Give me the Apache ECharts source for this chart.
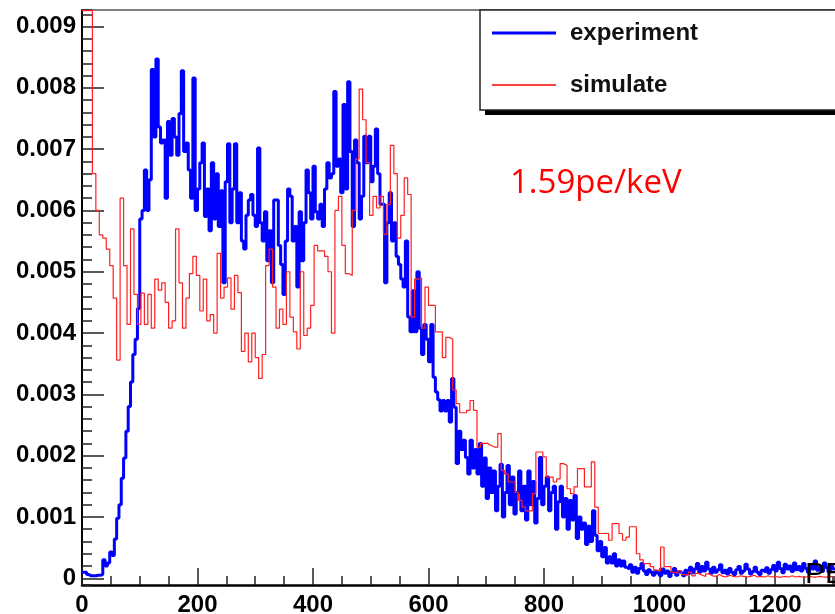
<!DOCTYPE html>
<html><head><meta charset="utf-8">
<script src="https://cdn.jsdelivr.net/npm/echarts/dist/echarts.min.js"></script>
<style>html,body{margin:0;padding:0;background:#fff}#c{width:835px;height:614px}</style>
</head><body><div id="c"></div>
<script>
// ---- data (values in units of 1e-4) ----
const seriesNames = ['experiment', 'simulate'];
const experimentBinWidth = 4;   // PE per bin
const simulateBinWidth = 6;     // PE per bin
const valueUnit = 1e-4;

const experiment = [
  1, 1, 0.6, 0.4, 0.4, 0.4, 0.5, 0.5, 0.6, 3,
  2, 2.5, 4.3, 3.7, 6.4, 9.8, 12, 16.3, 19.6, 24,
  28, 32, 36.5, 39, 44, 58.6, 60, 66.6, 60, 65,
  83, 72, 84.7, 73.6, 71, 71.5, 62, 74.5, 69, 75,
  72, 69, 75.8, 82.8, 69.6, 71, 66.6, 62, 81.6, 60,
  63.5, 67.8, 71, 59, 63.5, 56.7, 67.8, 58.6, 66, 57.4,
  63.2, 48.2, 64.7, 70.9, 58, 63.5, 70.9, 58, 62.9, 55,
  53.7, 59.2, 61.7, 62.6, 59.2, 57.4, 70.2, 58, 55, 59.8,
  51.8, 56.7, 48.2, 61.7, 61.7, 54.3, 51.2, 46.3, 55, 63.5,
  62.3, 55, 57.4, 47.5, 59.8, 51.8, 58, 66.6, 62.9, 58.6,
  67.2, 59.8, 58.6, 61, 57.4, 63.5, 67.8, 65.3, 66, 79.4,
  67.2, 68.4, 62.9, 77.3, 63.5, 81, 69.6, 57.4, 71.5, 67.8,
  58.6, 62.3, 72.1, 67.8, 72.1, 64.7, 67.2, 73.3, 66, 61,
  61, 48.2, 58, 62.9, 55, 58, 52.5, 51.2, 48.8, 47.5,
  55, 42.6, 40.2, 46.9, 40.2, 50, 40.8, 36.5, 41.4, 39,
  35.3, 41.4, 32.8, 30.4, 29.1, 27.3, 29, 27.3, 29, 25.5,
  32.6, 27.9, 18.7, 24, 21, 22.5, 19.7, 17, 22.5, 18,
  21, 17, 22, 15, 19.6, 13, 18, 14, 17.5, 11,
  15, 18.6, 10, 14, 18.4, 12, 16.5, 10.5, 14, 17.5,
  11, 15, 9.5, 17.5, 12, 15.8, 9, 13, 19.7, 12,
  15, 16.5, 11, 14, 15, 8, 12.5, 15, 10, 13,
  8, 12.7, 9.5, 13.5, 6.5, 10, 8, 9, 5.5, 8.5,
  6, 11, 7, 4.5, 6, 3.5, 5, 2.5, 3.5, 2.5,
  4, 2, 3, 2, 2.8, 1.8,
  1.5, 2.2, 1, 1.8, 0.8, 1.6, 2.4, 1.2, 0.6, 1.4, 1, 0.5, 1.2, 0.8,
  0.4, 1.5, 0.8, 1.2, 0.3, 1, 1.6, 0.5, 1.1, 0.8, 0.4, 1.3, 0.7, 1.8, 0.9,
  1.5, 2.4, 1, 1.9, 1.2, 2.6, 1.5, 0.8, 1.8, 1, 1.4, 2.2, 0.9, 1.3, 0.7,
  1.6, 1, 0.6, 1.4, 1.9, 0.8, 1.2, 2.3, 1.5, 0.7, 1.1, 1.8, 1, 0.6, 1.3,
  1, 1.7, 0.8, 1.4, 2.1, 1.2, 2.6, 1.6, 0.9, 2.3, 1.5, 2, 1.1, 2.5, 1.4,
  1.9, 1.2, 2.4, 1.6, 1, 2.2, 1.5, 2.8, 1.3, 1.8, 1.1, 2.5, 1.7, 1, 2, 1.5
];

const simulate = [
  92.6, 92.6, 92.6, 66, 60, 56, 55.5, 53.7, 51, 45.7,
  35.6, 62, 51, 41.4, 57, 46.3, 41.4, 46.5, 41.4, 46.3,
  40.8, 48.8, 47, 48.2, 45, 40.8, 42, 57, 48.2, 40.8,
  45.7, 49.7, 52.5, 49.4, 43.6, 48.8, 42, 43, 40, 53,
  45.7, 47.5, 49, 43.9, 49.4, 46.6, 37, 40, 35.3, 40,
  36, 32.6, 36.5, 51, 53.7, 47.5, 40.8, 43.9, 41.4, 50,
  42.6, 40.2, 37.4, 50, 39.6, 40.8, 44.5, 54.3, 53.4, 53.4,
  52.5, 50, 40, 60, 62.3, 54.3, 49.7, 49.4, 60, 68.4,
  79.8, 74.8, 67.8, 59.2, 62.3, 60.4, 62.3, 56.1, 61, 70.6,
  66, 55.5, 59.2, 65.3, 62.6, 42.6, 48.8, 49, 40.8, 47.5,
  44.5, 44.5, 40.2, 40.2, 36, 39.3, 39, 30.7, 28.5, 27,
  27, 27.4, 29, 27.4, 21.4, 22, 22, 21.7, 21.4, 21.4,
  23.6, 17.6, 17, 15.7, 15.7, 14, 12.7, 11.6, 11, 11,
  13.8, 20.6, 20.6, 19.8, 16.5, 16.5, 15.7, 16.2, 18.7, 18.4,
  14.6, 13.8, 14.9, 17.9, 17.9, 14.9, 14.9, 19, 11.6, 7.3,
  7.3, 7.3, 6.2, 8.9, 8.9, 7.3, 6.2, 6.7, 8.4, 8.4,
  4, 3, 2.4, 2.4, 1.9, 1.3, 1.3, 5.1, 1.9, 1.9,
  1, 0.8, 1.2, 0.6, 0.5, 1, 0.4, 0.8, 0.5, 0.3,
  0.7, 0.4, 0.3, 0.6, 0.3, 0.2, 0.5, 0.3, 0.2, 0.4,
  0.3, 0.2, 0.3, 0.5, 0.2, 0.3, 0.2, 0.4, 0.2, 0.3,
  0.2, 0.2, 0.3, 0.2, 0.4, 0.2, 0.3, 0.2, 0.2, 0.3,
  0.2, 0.2, 0.3, 0.2, 0.2, 0.3, 0.2
];

const xTickLabels = ['0', '200', '400', '600', '800', '1000', '1200'];
const yTickLabels = ['0', '0.001', '0.002', '0.003', '0.004', '0.005', '0.006', '0.007', '0.008', '0.009'];
const xAxisTitle = 'PE';
const annotation = '1.59pe/keV';

// ---- build step outlines ----
function histSteps(vals, bin) {
  const pts = vals.map((v, i) => [i * bin, v * valueUnit]);
  pts.push([vals.length * bin, vals[vals.length - 1] * valueUnit]);
  return pts;
}
const X_MIN = 0, X_MAX = 1304, Y_MIN = -0.00011, Y_MAX = 0.00927;
const labelFont = { fontFamily: 'Liberation Sans', fontWeight: 'bold', fontSize: 24, color: '#000' };

function fmtX(v) { const s = String(Math.round(v)); return (Math.abs(v - Math.round(v)) < 1e-6 && xTickLabels.includes(s)) ? s : ''; }
function fmtY(v) {
  const k = Math.round(v * 1000);
  if (Math.abs(v * 1000 - k) > 1e-6) return '';
  const s = k === 0 ? '0' : (k / 1000).toFixed(3);
  return yTickLabels.includes(s) ? s : '';
}

const chart = echarts.init(document.getElementById('c'), null, { renderer: 'canvas' });
chart.setOption({
  animation: false,
  backgroundColor: '#ffffff',
  grid: { left: 82, right: 0, top: 10, bottom: 29, containLabel: false, outerBoundsMode: 'none', show: false },
  xAxis: [
    { type: 'value', position: 'bottom', min: X_MIN, max: X_MAX, minInterval: 200, maxInterval: 200,
      axisLine: { onZero: false, lineStyle: { color: '#000', width: 2.5 } },
      axisTick: { inside: true, length: 17, lineStyle: { color: '#222', width: 1.5 } },
      axisLabel: Object.assign({ margin: 8, formatter: fmtX, showMinLabel: true, showMaxLabel: false }, labelFont),
      splitLine: { show: false } },
    { type: 'value', position: 'bottom', min: X_MIN, max: X_MAX, minInterval: 50, maxInterval: 50,
      axisLine: { show: false, onZero: false },
      axisTick: { inside: true, length: 9, lineStyle: { color: '#222', width: 1.5 } },
      axisLabel: { show: false }, splitLine: { show: false } },
    { type: 'value', position: 'top', min: X_MIN, max: X_MAX,
      axisLine: { onZero: false, lineStyle: { color: '#555', width: 1.5 } },
      axisTick: { show: false }, axisLabel: { show: false }, splitLine: { show: false } }
  ],
  yAxis: [
    { type: 'value', position: 'left', min: Y_MIN, max: Y_MAX, minInterval: 0.001, maxInterval: 0.001,
      axisLine: { onZero: false, lineStyle: { color: '#000', width: 2 } },
      axisTick: { inside: true, length: 22, lineStyle: { color: '#222', width: 1.5 } },
      axisLabel: Object.assign({ margin: 6, formatter: fmtY, showMinLabel: false, showMaxLabel: false }, labelFont),
      splitLine: { show: false } },
    { type: 'value', position: 'left', min: Y_MIN, max: Y_MAX, minInterval: 0.0002, maxInterval: 0.0002,
      axisLine: { show: false, onZero: false },
      axisTick: { inside: true, length: 10, lineStyle: { color: '#222', width: 1.5 } },
      axisLabel: { show: false }, splitLine: { show: false } }
  ],
  legend: {
    left: 480, top: 10, orient: 'vertical', z: 6,
    itemWidth: 64, itemHeight: 24, itemGap: 28,
    padding: [11, 320, 13, 12],
    backgroundColor: '#fff', borderColor: '#222', borderWidth: 1.5,
    symbolKeepAspect: true,
    textStyle: Object.assign({ padding: [0, 0, 0, 9] }, labelFont, { color: '#111' }),
    data: [
      { name: seriesNames[0], icon: 'path://M0 0H64V3H0Z' },
      { name: seriesNames[1], icon: 'path://M0 0H64V1.3H0Z' }
    ]
  },
  graphic: [
    { type: 'rect', z: 5, shape: { x: 485, y: 15, width: 420, height: 100 }, style: { fill: '#000' } },
    { type: 'text', x: 510, y: 184, z: 10,
      style: { text: annotation, fill: '#ff0000', fontSize: 33, fontFamily: 'Open Sans', verticalAlign: 'middle', align: 'left' } },
    { type: 'text', x: 805, y: 574.5, z: 10,
      style: { text: xAxisTitle, fill: '#000', fontSize: 30, fontFamily: 'Liberation Sans', verticalAlign: 'middle', align: 'left' } }
  ],
  series: [
    { name: seriesNames[0], type: 'line', step: 'end', xAxisIndex: 0, yAxisIndex: 0,
      data: histSteps(experiment, experimentBinWidth), symbol: 'none', color: '#0000ff',
      lineStyle: { color: '#0000ff', width: 3 }, z: 2, clip: true },
    { name: seriesNames[1], type: 'line', step: 'end', xAxisIndex: 0, yAxisIndex: 0,
      data: histSteps(simulate, simulateBinWidth), symbol: 'none', color: '#ff0000',
      lineStyle: { color: '#ff2020', width: 1.2 }, z: 3, clip: true }
  ]
});
</script>
</body></html>
